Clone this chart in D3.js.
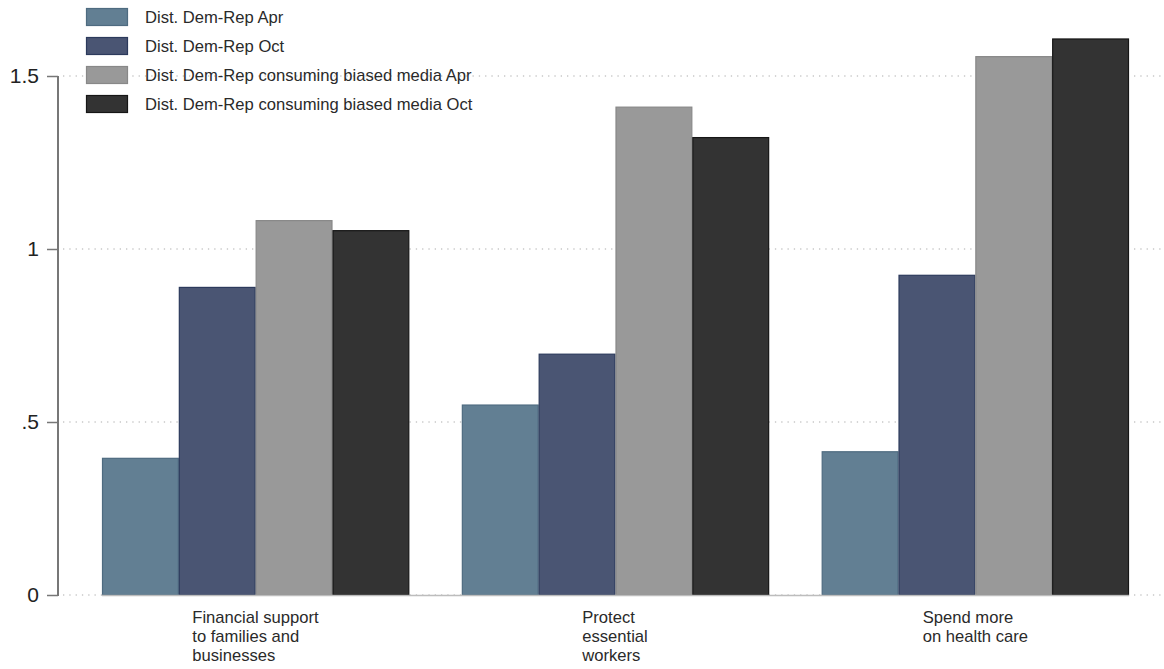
<!DOCTYPE html>
<html><head><meta charset="utf-8">
<script src="https://cdn.jsdelivr.net/npm/d3@7"></script>
<style>body{margin:0;background:#fff}svg{display:block}text{font-family:"Liberation Sans",Arial,sans-serif}</style>
</head><body>
<svg id="c" width="1164" height="669"></svg>
<script>
const categories = [["Financial support","to families and","businesses"],["Protect","essential","workers"],["Spend more","on health care"]];
const seriesNames = ["Dist. Dem-Rep Apr","Dist. Dem-Rep Oct","Dist. Dem-Rep consuming biased media Apr","Dist. Dem-Rep consuming biased media Oct"];
const aprValues = [0.395, 0.549, 0.414];
const octValues = [0.889, 0.696, 0.924];
const biasedAprValues = [1.082, 1.410, 1.556];
const biasedOctValues = [1.053, 1.322, 1.607];
const yTicks = [0, 0.5, 1, 1.5];
const yTickLabels = ["0", ".5", "1", "1.5"];
const fills = ["#627f93","#4a5573","#999999","#333333"];
const strokes = ["#4e6b80","#2c3a5c","#888888","#161616"];

const series = [aprValues, octValues, biasedAprValues, biasedOctValues];
const svg = d3.select("#c");
const y = d3.scaleLinear().domain([0,1.5]).range([595,76]);
const x0 = d3.scaleBand().domain(d3.range(categories.length)).range([102,1129]).paddingInner(0.146).paddingOuter(0);
const x1 = d3.scaleBand().domain(d3.range(series.length)).range([0,x0.bandwidth()]);

// grid
svg.append("g").selectAll("line").data(yTicks).join("line")
  .attr("x1",63).attr("x2",1164).attr("y1",d=>y(d)).attr("y2",d=>y(d))
  .attr("stroke","#c8c8c8").attr("stroke-width",1.3).attr("stroke-dasharray","1.3,5");

// bars
const g = svg.append("g");
categories.forEach((c,i)=>{
  series.forEach((s,j)=>{
    g.append("rect")
      .attr("x",x0(i)+x1(j)+0.5).attr("y",y(s[i]))
      .attr("width",x1.bandwidth()-1).attr("height",y(0)-y(s[i]))
      .attr("fill",fills[j]).attr("stroke",strokes[j]).attr("stroke-width",1.2);
  });
});
// baseline
svg.append("line").attr("x1",x0(0)).attr("x2",x0(2)+x0.bandwidth()).attr("y1",y(0)+0.5).attr("y2",y(0)+0.5)
  .attr("stroke","#bdbdbd").attr("stroke-width",1.5);

// y axis
const ax = svg.append("g").attr("transform","translate(58,0)")
  .call(d3.axisLeft(y).tickValues(yTicks).tickFormat((d,i)=>yTickLabels[i]).tickSize(11).tickPadding(8));
ax.select(".domain").attr("stroke","#555").attr("stroke-width",1.6).attr("d","M0,"+y(1.5)+"V"+(y(0)+1));
ax.selectAll(".tick line").attr("stroke","#777").attr("stroke-width",1.5);
ax.selectAll(".tick text").attr("font-size",21).attr("fill","#222").attr("font-family","'Liberation Sans',Arial,sans-serif");

// x labels
categories.forEach((lines,i)=>{
  const cx = x0(i)+x0.bandwidth()/2;
  const t = svg.append("text").attr("font-size",16.6).attr("fill","#2a2a2a");
  lines.forEach((l,k)=>t.append("tspan").attr("x",0).attr("y",623+k*19).text(l));
  const w = t.node().getBBox().width;
  t.selectAll("tspan").attr("x",cx-w/2);
});

// legend
const lg = svg.append("g");
seriesNames.forEach((n,j)=>{
  const yy = 8+j*29;
  lg.append("rect").attr("x",86.5).attr("y",yy+0.5).attr("width",41).attr("height",17)
    .attr("fill",fills[j]).attr("stroke",strokes[j]).attr("stroke-width",1.2);
  lg.append("text").attr("x",145).attr("y",yy+14.5).attr("font-size",16.6).attr("fill","#2a2a2a").text(n);
});
</script>
</body></html>
